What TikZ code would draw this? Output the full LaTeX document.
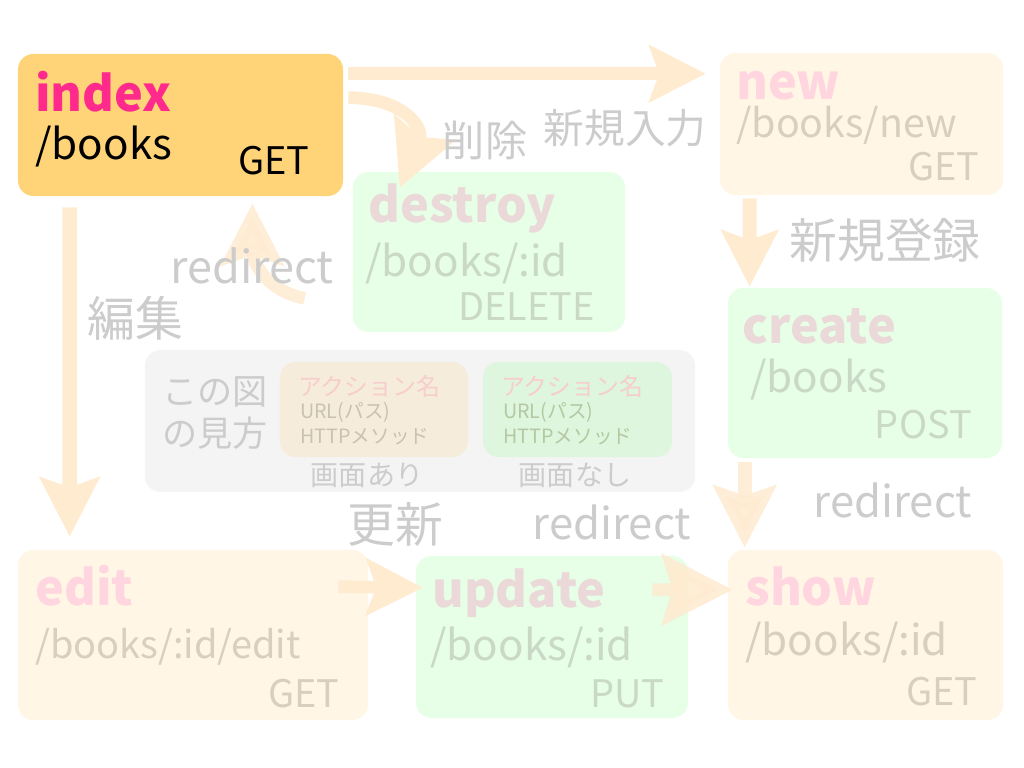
\documentclass[tikz,border=0pt]{standalone}
\usepackage{fontspec}
\setmainfont{Noto Sans CJK JP}
\usetikzlibrary{arrows.meta}

\definecolor{indexc}{HTML}{FFD479}
\definecolor{hotpink}{HTML}{FF2A8C}
\definecolor{creamc}{HTML}{FFF6E5}
\definecolor{mintc}{HTML}{E6FFE6}
\definecolor{paleink}{HTML}{FFD6DF}
\definecolor{mintink}{HTML}{EBD9D9}
\definecolor{creamtxt}{HTML}{D8CFC1}
\definecolor{minttxt}{HTML}{C9D9C6}
\definecolor{notec}{HTML}{CCCCCC}
\definecolor{legendc}{HTML}{F4F4F4}
\definecolor{keyac}{HTML}{F5ECDC}
\definecolor{keybc}{HTML}{DEF5DE}
\definecolor{keyink}{HTML}{F7CDCD}
\definecolor{keytxt}{HTML}{C9C2B4}
\definecolor{flowc}{HTML}{FFEBD0}

\tikzset{
  box/.style={rounded corners=11pt, inner sep=0pt},
  actname/.style={font=\fontsize{34.5}{38}\selectfont\bfseries, inner sep=0pt, anchor=base west},
  actroute/.style={font=\fontsize{30}{34}\selectfont, inner sep=0pt, anchor=base west},
  actverb/.style={font=\fontsize{27}{30}\selectfont, inner sep=0pt, anchor=base east},
  tagnote/.style={font=\fontsize{30}{34}\selectfont, text=notec, inner sep=0pt},
  flow/.style={draw=flowc, line width=9pt, -{Stealth[length=#1, width=#1, inset=7pt]}},
  flow/.default=40pt,
  sketch/.style={opacity=0.85}
}

\begin{document}
\begin{tikzpicture}[x=0.025cm, y=-0.025cm]
\useasboundingbox (0,0) rectangle (1024,768);

% boxes
\node[box, fill=indexc, minimum width=8.125cm, minimum height=3.55cm] (index) at (180.5,125) {};
\node[box, fill=creamc, minimum width=7.075cm, minimum height=3.55cm] (new) at (861.5,124) {};
\node[box, fill=mintc, minimum width=6.8cm, minimum height=4cm] (destroy) at (489,252) {};
\node[box, fill=mintc, minimum width=6.85cm, minimum height=4.25cm] (create) at (865,373) {};
\node[box, fill=creamc, minimum width=8.75cm, minimum height=4.25cm] (edit) at (193,635) {};
\node[box, fill=mintc, minimum width=6.8cm, minimum height=4.05cm] (update) at (552,637) {};
\node[box, fill=creamc, minimum width=6.875cm, minimum height=4.25cm] (show) at (865.5,635) {};

% legend
\node[box, fill=legendc, minimum width=13.75cm, minimum height=3.55cm] (legend) at (420,421) {};
\node[box, fill=keyac, minimum width=4.7cm, minimum height=2.375cm] (keyA) at (374,409.5) {};
\node[box, fill=keybc, minimum width=4.725cm, minimum height=2.375cm] (keyB) at (577.5,409.5) {};

% texts in boxes
\node[actname, text=hotpink] (indexName) at (35,112) {index};
\node[actroute, text=black] (indexRoute) at (35,160) {/books};
\node[actverb, text=black, anchor=base west] (indexVerb) at (238,175) {GET};

\node[actname, text=paleink] (newName) at (736,100) {new};
\node[actroute, text=creamtxt, font=\fontsize{28}{32}\selectfont] (newRoute) at (736,138) {/books/new};
\node[actverb, text=creamtxt] (newVerb) at (980,180) {GET};

\node[actname, text=mintink] (destroyName) at (368,222) {destroy};
\node[actroute, text=minttxt] (destroyRoute) at (365,276) {/books/:id};
\node[actverb, text=minttxt] (destroyVerb) at (595,320) {DELETE};

\node[actname, text=mintink] (createName) at (742,343) {create};
\node[actroute, text=minttxt] (createRoute) at (750,392) {/books};
\node[actverb, text=minttxt] (createVerb) at (972,438) {POST};

\node[actname, text=paleink] (editName) at (35,605) {edit};
\node[actroute, text=creamtxt, font=\fontsize{27}{31}\selectfont] (editRoute) at (35,658) {/books/:id/edit};
\node[actverb, text=creamtxt] (editVerb) at (340,707) {GET};

\node[actname, text=mintink] (updateName) at (432,607) {update};
\node[actroute, text=minttxt] (updateRoute) at (430,660) {/books/:id};
\node[actverb, text=minttxt] (updateVerb) at (665,707) {PUT};

\node[actname, text=paleink] (showName) at (745,605) {show};
\node[actroute, text=creamtxt] (showRoute) at (745,655) {/books/:id};
\node[actverb, text=creamtxt] (showVerb) at (978,705) {GET};

% legend texts
\node[tagnote, font=\fontsize{25}{28}\selectfont] (legendA) at (215,392) {この図};
\node[tagnote, font=\fontsize{25}{28}\selectfont] (legendB) at (215,433) {の見方};
\node[inner sep=0pt, anchor=west, text=keyink, font=\fontsize{17}{20}\selectfont] (keyAName) at (298,386) {アクション名};
\node[inner sep=0pt, anchor=west, text=keytxt, font=\fontsize{14}{16}\selectfont] (keyARoute) at (300,412) {URL(パス)};
\node[inner sep=0pt, anchor=west, text=keytxt, font=\fontsize{14}{16}\selectfont] (keyAVerb) at (300,437) {HTTPメソッド};
\node[inner sep=0pt, anchor=west, text=keyink, font=\fontsize{17}{20}\selectfont] (keyBName) at (501,386) {アクション名};
\node[inner sep=0pt, anchor=west, text=keytxt!90!green, font=\fontsize{14}{16}\selectfont] (keyBRoute) at (503,412) {URL(パス)};
\node[inner sep=0pt, anchor=west, text=keytxt!90!green, font=\fontsize{14}{16}\selectfont] (keyBVerb) at (503,437) {HTTPメソッド};
\node[tagnote, font=\fontsize{20}{24}\selectfont] (keyALabel) at (367,475) {画面あり};
\node[tagnote, font=\fontsize{20}{24}\selectfont] (keyBLabel) at (575,475) {画面なし};

% arrows
\draw[flow] ([shift={(5,20)}]index.north east) -- ([shift={(-14,21)}]new.north west);
\draw[flow=46pt] ([shift={(5,44)}]index.north east) .. controls +(55,0) and +(25,-60) .. ([shift={(47,16)}]destroy.north west);
\draw[flow=42pt, line width=10.5pt] ([shift={(52,11)}]index.south west) -- ([shift={(52,-13)}]edit.north west);
\draw[flow, line width=10pt] ([shift={(30,3)}]new.south west) -- ([shift={(22,-1)}]create.north west);
\draw[flow=44pt, sketch, line width=10pt] ([shift={(17,4)}]create.south west) -- ([shift={(17,-2)}]show.north west);
\draw[flow] ([shift={(-30,37)}]edit.north east) -- ([shift={(7,32)}]update.north west);
\draw[flow=50pt, sketch] ([shift={(-36,34)}]update.north east) -- ([shift={(5,40)}]show.north west);
\draw[flow=44pt, sketch] ([shift={(-48,-34)}]destroy.south west) .. controls +(-40,-8) and +(0,57) .. ([shift={(-91,7)}]index.south east);

% labels
\node[tagnote] (deleteNote) at (485,140) {削除};
\node[tagnote, font=\fontsize{29}{32}\selectfont] (newNote) at (625,128) {新規入力};
\node[tagnote, font=\fontsize{34}{38}\selectfont] (createNote) at (885,240) {新規登録};
\node[tagnote, font=\fontsize{32}{36}\selectfont] (redirectA) at (252,266) {redirect};
\node[tagnote, font=\fontsize{34}{38}\selectfont] (editNote) at (135,318) {編集};
\node[tagnote, font=\fontsize{34}{38}\selectfont] (updateNote) at (395,525) {更新};
\node[tagnote, font=\fontsize{31}{35}\selectfont] (redirectB) at (612,522) {redirect};
\node[tagnote, font=\fontsize{31}{35}\selectfont] (redirectC) at (893,500) {redirect};
\end{tikzpicture}
\end{document}
